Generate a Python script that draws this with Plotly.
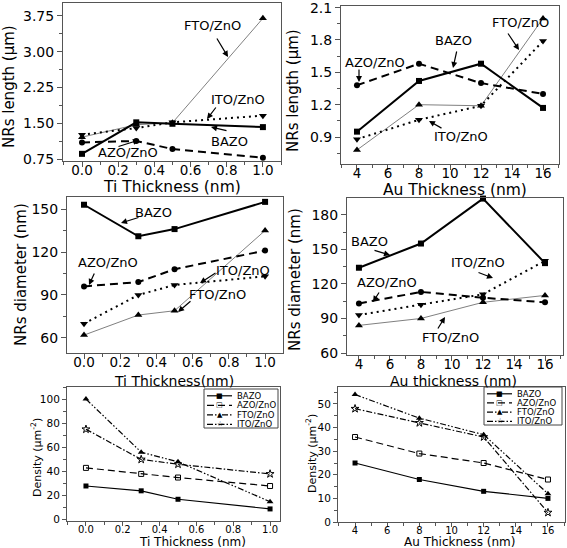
import plotly.graph_objects as go

W, H = 567, 548
FONT = "DejaVu Sans"

# ---------------- data ----------------
ti_x = [0.0, 0.3, 0.5, 1.0]
au_x = [4, 8, 12, 16]

series = ["BAZO", "AZO/ZnO", "FTO/ZnO", "ITO/ZnO"]

len_ti_bazo = [0.86, 1.52, 1.49, 1.42]
len_ti_azo = [1.10, 1.13, 0.96, 0.78]
len_ti_fto = [1.21, 1.47, 1.51, 3.70]
len_ti_ito = [1.26, 1.40, 1.52, 1.66]

len_au_bazo = [0.95, 1.42, 1.58, 1.17]
len_au_azo = [1.38, 1.58, 1.40, 1.30]
len_au_fto = [0.78, 1.20, 1.19, 2.00]
len_au_ito = [0.88, 1.06, 1.19, 1.79]

dia_ti_bazo = [153, 131, 136, 155]
dia_ti_azo = [96, 99, 108, 121]
dia_ti_fto = [62, 76, 79, 135]
dia_ti_ito = [70, 90, 97, 103]

dia_au_bazo = [134, 155, 194, 138]
dia_au_azo = [103, 113, 108, 104]
dia_au_fto = [84, 90, 104, 110]
dia_au_ito = [93, 102, 111, 140]

den_ti_bazo = [28, 24, 17, 9]
den_ti_azo = [43, 38, 35, 28]
den_ti_fto = [100, 56, 48, 15]
den_ti_ito = [75, 50, 46, 38]

den_au_bazo = [25, 18, 13, 10]
den_au_azo = [36, 29, 25, 18]
den_au_fto = [54, 44, 37, 12]
den_au_ito = [48, 42, 36, 4]

# ---------------- helpers ----------------
def px(xp):
    return xp / W

def py(yp):
    return 1 - yp / H

fig = go.Figure()

top_styles = {
    "BAZO": dict(line=dict(color="black", width=2), marker=dict(symbol="square", size=6, color="black")),
    "AZO/ZnO": dict(line=dict(color="black", width=2, dash="8px,5px"), marker=dict(symbol="circle", size=6, color="black")),
    "FTO/ZnO": dict(line=dict(color="#808080", width=1), marker=dict(symbol="triangle-up", size=7, color="black")),
    "ITO/ZnO": dict(line=dict(color="black", width=2, dash="2px,4px"), marker=dict(symbol="triangle-down", size=7, color="black")),
}
bot_styles = {
    "BAZO": dict(line=dict(color="black", width=1.2), marker=dict(symbol="square", size=5, color="black")),
    "AZO/ZnO": dict(line=dict(color="black", width=1.2, dash="7px,4px"), marker=dict(symbol="square-open", size=5, color="black")),
    "FTO/ZnO": dict(line=dict(color="black", width=1.2, dash="6px,2px,1.5px,2px,1.5px,2px"), marker=dict(symbol="triangle-up", size=6, color="black")),
    "ITO/ZnO": dict(line=dict(color="black", width=1.2, dash="6px,2px,1.5px,2px"), marker=dict(symbol="star-open", size=6, color="black")),
}

panels = [
    ("x", "y", ti_x, [len_ti_fto, len_ti_bazo, len_ti_azo, len_ti_ito], top_styles),
    ("x2", "y2", au_x, [len_au_fto, len_au_bazo, len_au_azo, len_au_ito], top_styles),
    ("x3", "y3", ti_x, [dia_ti_fto, dia_ti_bazo, dia_ti_azo, dia_ti_ito], top_styles),
    ("x4", "y4", au_x, [dia_au_fto, dia_au_bazo, dia_au_azo, dia_au_ito], top_styles),
    ("x5", "y5", ti_x, [den_ti_fto, den_ti_bazo, den_ti_azo, den_ti_ito], bot_styles),
    ("x6", "y6", au_x, [den_au_fto, den_au_bazo, den_au_azo, den_au_ito], bot_styles),
]
order = ["FTO/ZnO", "BAZO", "AZO/ZnO", "ITO/ZnO"]
for xa, ya, xs, ys_list, st in panels:
    for name, ys in zip(order, ys_list):
        fig.add_trace(go.Scatter(x=xs, y=ys, mode="lines+markers", name=name,
                                 xaxis=xa, yaxis=ya, showlegend=False, cliponaxis=False,
                                 line=st[name]["line"], marker=st[name]["marker"]))

# ---------------- axes ----------------
frames = {
    1: (63, 281, 3, 161),
    2: (341, 559, 6, 164),
    3: (67, 283, 197, 353),
    4: (347, 563, 198, 355),
    5: (67, 280, 387, 521),
    6: (338, 565, 387, 522),
}
ranges = {
    1: ([-0.105, 1.10], [0.71, 4.02]),
    2: ([2.97, 17.03], [0.65, 2.115]),
    3: ([-0.094, 1.099], [49.5, 158.4]),
    4: ([3.23, 17.16], [58.3, 194.5]),
    5: ([-0.103, 1.054], [-1, 110]),
    6: ([2.94, 17.06], [0, 57.2]),
}
xticks = {1: (0, 0.2, 0.1, ".1f"), 2: (4, 2, 1, ""), 3: (0, 0.2, 0.1, ".1f"),
          4: (4, 2, 1, ""), 5: (0, 0.2, 0.1, ".1f"), 6: (4, 2, 1, "")}
yticks = {1: (0.75, 0.75, 0.375, ".2f"), 2: (0.9, 0.3, 0.15, ".1f"), 3: (60, 30, 15, ""),
          4: (60, 30, 15, ""), 5: (0, 20, 10, ""), 6: (0, 10, 5, "")}

layout_axes = {}
for i in range(1, 7):
    l, r, t, b = frames[i]
    fs = 14 if i <= 4 else 10.5
    xfs = 13.5 if i <= 4 else 10
    common = dict(showline=True, mirror=True, linecolor="#555", linewidth=1,
                  ticks="outside", ticklen=5 if i <= 4 else 4, tickcolor="#555", tickwidth=1,
                  showgrid=False, zeroline=False, automargin=False,
                  ticklabeloverflow="allow")
    x0, xd, xm, xf = xticks[i]
    y0, yd, ym, yf = yticks[i]
    sfx = "" if i == 1 else str(i)
    layout_axes["xaxis" + sfx] = dict(common, domain=[px(l), px(r)], range=ranges[i][0],
                                      anchor="y" + sfx, tickmode="linear", tick0=x0, dtick=xd,
                                      tickformat=xf, ticklabelstandoff=-8 if i <= 4 else -5,
                                      tickfont=dict(family=FONT, size=xfs, color="black"),
                                      minor=dict(ticks="outside", ticklen=3, tickcolor="#555",
                                                 tick0=x0, dtick=xm, showgrid=False))
    layout_axes["yaxis" + sfx] = dict(common, domain=[py(b), py(t)], range=ranges[i][1],
                                      anchor="x" + sfx, tickmode="linear", tick0=y0, dtick=yd,
                                      tickformat=yf,
                                      tickfont=dict(family=FONT, size=fs, color="black"),
                                      minor=dict(ticks="outside", ticklen=3, tickcolor="#555",
                                                 tick0=y0, dtick=ym, showgrid=False))

annotations = []

def text(s, x, y, size, angle=0, anchor="center"):
    annotations.append(dict(text=s, x=px(x), y=py(y), xref="paper", yref="paper",
                            showarrow=False, textangle=angle, xanchor=anchor, yanchor="middle",
                            font=dict(family=FONT, size=size, color="black")))

def arrow(tx, ty, hx, hy):
    annotations.append(dict(text="", x=px(hx), y=py(hy), xref="paper", yref="paper",
                            ax=tx - hx, ay=ty - hy, axref="pixel", ayref="pixel",
                            showarrow=True, arrowhead=2, arrowsize=1, arrowwidth=1.2,
                            arrowcolor="black"))

# axis titles
text("Ti Thickness (nm)", 172, 187, 15.5)
text("NRs length (\u03bcm)", 9, 87, 15, -90)
text("Au Thickness (nm)", 455, 190, 15.5)
text("NRs length (\u03bcm)", 293, 91, 15, -90)
text("Ti Thickness(nm)", 174, 380.5, 14)
text("NRs diameter (nm)", 21, 275, 15, -90)
text("Au thickness (nm)", 453, 380.5, 14)
text("NRs diameter (nm)", 295, 280, 15, -90)
text("Ti Thickness (nm)", 192, 542, 12)
text("Density (\u03bcm<sup>-2</sup>)", 36, 458, 11, -90)
text("Au Thickness (nm)", 459, 542, 12)
text("Density (\u03bcm<sup>-2</sup>)", 311, 454, 11, -90)

# series labels + arrows, panel 1
text("FTO/ZnO", 212, 25, 13); arrow(216, 37, 228, 57)
text("ITO/ZnO", 238, 99, 13); arrow(217, 106, 207, 119)
text("BAZO", 229, 141, 13); arrow(228, 131, 211, 127)
text("AZO/ZnO", 128, 152, 13); arrow(117, 147, 139, 140)
# panel 2
text("AZO/ZnO", 375, 62, 13); arrow(359, 68, 359, 82)
text("BAZO", 453, 41, 13); arrow(457, 50, 453, 68)
text("FTO/ZnO", 520, 23, 13); arrow(507, 32, 519, 50)
text("ITO/ZnO", 461, 136, 13); arrow(443, 129, 429, 121)
# panel 3
text("BAZO", 153, 212, 13); arrow(140, 217, 121, 223)
text("AZO/ZnO", 108, 262, 13); arrow(95, 272, 89, 285)
text("ITO/ZnO", 243, 270, 13); arrow(217, 272, 200, 283)
text("FTO/ZnO", 217, 294, 13); arrow(192, 300, 178, 312)
# panel 4
text("BAZO", 369, 241, 13); arrow(373, 250, 390, 255)
text("ITO/ZnO", 478, 262, 13); arrow(477, 272, 493, 278)
text("AZO/ZnO", 387, 282, 13); arrow(380, 291, 373, 302)
text("FTO/ZnO", 450, 337, 13); arrow(437, 330, 445, 317)

# manual legends for bottom panels
shapes = []
glyphs = {"BAZO": "\u25a0", "AZO/ZnO": "\u25a1", "FTO/ZnO": "\u25b2", "ITO/ZnO": "\u2606"}
def legend_box(x0, x1, y0, y1, lx0, lx1, tx):
    shapes.append(dict(type="rect", xref="paper", yref="paper", x0=px(x0), x1=px(x1),
                       y0=py(y1), y1=py(y0), line=dict(color="#444", width=1),
                       fillcolor="white", layer="above"))
    step = (y1 - y0 - 10.5) / 3.0
    for k, name in enumerate(series):
        yy = y0 + 6.8 + k * step
        st = bot_styles[name]["line"]
        shapes.append(dict(type="line", xref="paper", yref="paper", x0=px(lx0), x1=px(lx1),
                           y0=py(yy), y1=py(yy), layer="above",
                           line=dict(color="black", width=1.2, dash=st.get("dash", "solid"))))
        annotations.append(dict(text=glyphs[name], x=px((lx0 + lx1) / 2), y=py(yy),
                                xref="paper", yref="paper", showarrow=False,
                                xanchor="center", yanchor="middle",
                                font=dict(family=FONT, size=7, color="black")))
        text(name, tx, yy, 8.5, anchor="left")

legend_box(204, 278, 389, 428, 207, 232, 235)
legend_box(484, 562, 387, 425, 487, 512, 515)

fig.update_layout(
    width=W, height=H, autosize=False,
    margin=dict(l=0, r=0, t=0, b=0, autoexpand=False),
    paper_bgcolor="white", plot_bgcolor="white",
    font=dict(family=FONT, color="black"),
    showlegend=False,
    annotations=annotations, shapes=shapes,
    **layout_axes,
)

fig.write_html("out.html", config={"displayModeBar": False},
               post_script="document.body.style.margin='0';document.body.style.padding='0';")
